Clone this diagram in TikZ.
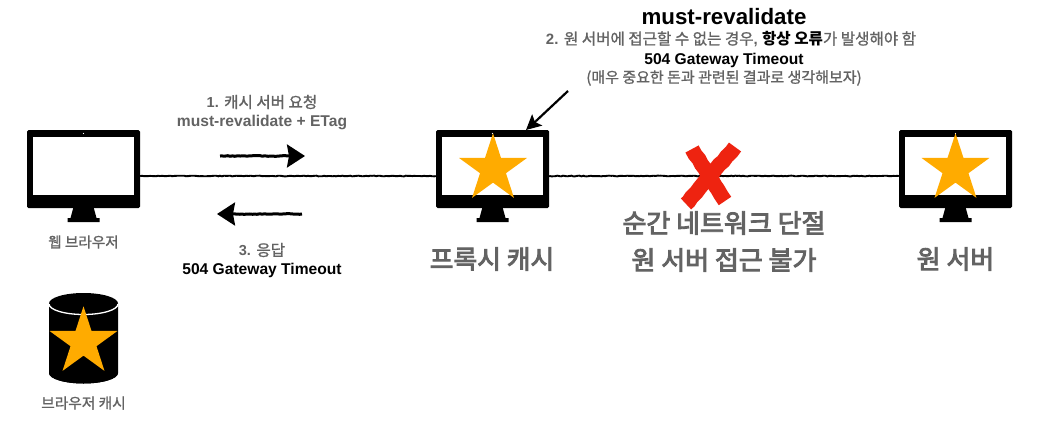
\documentclass[tikz,border=0pt]{standalone}
\usepackage{fontspec}
\setmainfont{Liberation Sans}
\newfontfamily\kr{Noto Sans CJK KR}
\newfontfamily\krm[FakeBold=1.2]{Noto Sans CJK KR}
\newfontfamily\krl[FakeBold=3.5]{Noto Sans CJK KR}
\usetikzlibrary{arrows.meta,shapes.geometric,decorations.pathmorphing}
\definecolor{txtgray}{HTML}{636363}
\definecolor{staror}{HTML}{FFAB00}
\definecolor{xred}{HTML}{EE2310}
\tikzset{
  monbody/.style={fill=black,rounded corners=1.5pt,minimum width=113pt,minimum height=78pt,inner sep=0pt,draw=none},
  monscreen/.style={fill=white,minimum width=100.5pt,minimum height=58pt,inner sep=0pt,draw=none},
  starshape/.style={star,star points=5,star point ratio=2.618,fill=staror,draw=none,minimum size=71.4pt,inner sep=0pt},
  wire/.style={line width=1.9pt,black,decorate,decoration={random steps,segment length=2pt,amplitude=0.35pt}},
  rougharrow/.style={line width=3pt,black,decorate,decoration={random steps,segment length=2.5pt,amplitude=0.4pt}},
  headtip/.style={-{Stealth[length=18pt,width=23pt,inset=2pt]},line width=3pt,black},
  graylab/.style={text=txtgray,align=center,inner sep=0pt},
  blacklab/.style={text=black,align=center,inner sep=0pt},
  cross/.style={line width=15pt,xred,line cap=butt,decorate,decoration={random steps,segment length=6pt,amplitude=0.5pt}},
}
\newcommand{\sz}[1]{\fontsize{#1}{#1}\selectfont}
\newcommand{\monitorat}[2]{%
  \fill[black] (#2-10,207) -- (#2+10,207) -- (#2+13,218) -- (#2+16,218) -- (#2+16,222) -- (#2-16,222) -- (#2-16,218) -- (#2-13,218) -- cycle;
  \node[monbody] (#1) at (#2,169) {};
  \node[monscreen] (#1screen) at (#2,166) {};
  \fill[white] (#2,133.5) circle (0.6);
}
\begin{document}
\begin{tikzpicture}[x=1pt,y=-1pt]
\useasboundingbox[fill=white] (0,0) rectangle (1058,434);
\monitorat{browser}{83.5}
\monitorat{proxy}{492.5}
\monitorat{origin}{955.5}
\draw[wire] ([yshift=-7pt]browser.east) -- ([yshift=-7pt]proxy.west);
\draw[wire] ([yshift=-7pt]proxy.east) -- ([yshift=-7pt]origin.west);
\node[starshape] (proxystar) at (493,169) {};
\node[starshape] (originstar) at (955.5,169) {};
% database
\fill[black] (49,303.5) -- (49,373) arc[start angle=180,end angle=0,x radius=34.5,y radius=10.5] -- (118,303.5) arc[start angle=0,end angle=-180,x radius=34.5,y radius=10.5] -- cycle;
\fill[black] (49,373) arc[start angle=-180,end angle=0,x radius=34.5,y radius=-10.5] -- cycle;
\draw[white,line width=1.3pt] (49,304) arc[start angle=180,end angle=0,x radius=34.5,y radius=10.5];
\node[starshape] (dbstar) at (83.5,342) {};
% arrows
\coordinate (a1s) at (220,156); \coordinate (a1e) at (305,156);
\coordinate (a2s) at (302,214); \coordinate (a2e) at (217,214);
\coordinate (a3s) at (568,91);  \coordinate (a3e) at (526,130);
\draw[rougharrow] (a1s) -- (290,156);
\draw[headtip] (290,156) -- (a1e);
\draw[rougharrow] (a2s) -- (232,214);
\draw[headtip] (232,214) -- (a2e);
\draw[line width=2.2pt,black] (a3s) -- (536,121);
\draw[-{Stealth[length=15pt,width=15pt,inset=3pt]},line width=2.2pt,black] (536,121) -- (a3e);
% cross
\draw[cross] (692,149) -- (725,201);
\draw[cross] (735,147) -- (686,204);
% labels
\node[graylab,font=\sz{14.5}\bfseries] (l1) at (262,102) {1. {\mdseries\krm\sz{15.6}캐시 서버 요청}};
\node[graylab,font=\sz{15.6}\bfseries] (l1b) at (262,122) {must-revalidate + ETag};
\node[graylab,font=\sz{14.6}\krm] (lbrowser) at (83.5,242) {웹 브라우저};
\node[graylab,font=\sz{14.5}\bfseries] (l3) at (262,250) {3. {\mdseries\krm\sz{15.6}응답}};
\node[blacklab,font=\sz{15.6}\bfseries] (l3b) at (262,270) {504 Gateway Timeout};
\node[blacklab,font=\sz{22.3}\bfseries] (title) at (724,17) {must-revalidate};
\node[graylab,font=\sz{15}\bfseries] (l2) at (731,39) {2. {\mdseries\krm\sz{15.6}원 서버에 접근할 수 없는 경우}, {\color{black}\kr\bfseries\sz{15.6}항상 오류}{\mdseries\krm\sz{15.6}가 발생해야 함}};
\node[blacklab,font=\sz{15.6}\bfseries] (l2b) at (724,60) {504 Gateway Timeout};
\node[graylab,font=\sz{15}\krm] (l2c) at (724,78) {(매우 중요한 돈과 관련된 결과로 생각해보자)};
\node[graylab,font=\sz{25.8}\krl] (lproxy) at (492,259) {프록시 캐시};
\node[graylab,font=\sz{26}\krl] (lcut1) at (724,223) {순간 네트워크 단절};
\node[graylab,font=\sz{26}\krl] (lcut2) at (724,260) {원 서버 접근 불가};
\node[graylab,font=\sz{26}\krl] (lorigin) at (955.5,259) {원 서버};
\node[graylab,font=\sz{14.7}\krm] (ldb) at (83.5,403) {브라우저 캐시};
\end{tikzpicture}
\end{document}
